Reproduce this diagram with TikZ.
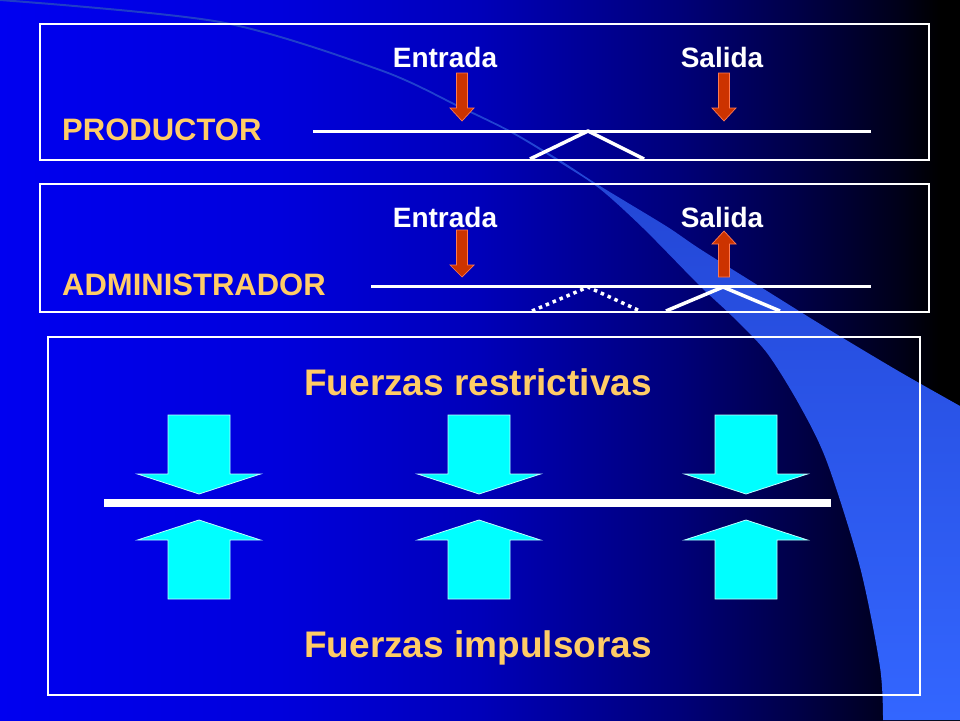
\documentclass[tikz,border=0pt]{standalone}
\usepackage{fontspec}
\setmainfont{Liberation Sans}
\definecolor{bgA}{RGB}{0,0,240}
\definecolor{bgB}{RGB}{0,0,220}
\definecolor{bgC}{RGB}{0,0,185}
\definecolor{bgD}{RGB}{0,0,120}
\definecolor{bgE}{RGB}{0,0,70}
\definecolor{bgF}{RGB}{0,0,25}
\definecolor{bgG}{RGB}{0,0,0}
\definecolor{bandtop}{RGB}{30,60,200}
\definecolor{bandcol}{RGB}{51,102,255}
\definecolor{roletext}{RGB}{255,204,102}
\definecolor{arrowred}{RGB}{204,51,0}
\definecolor{arrowedge}{RGB}{255,120,80}
\definecolor{forcecyan}{RGB}{0,255,255}
\definecolor{cyanedge}{RGB}{190,255,255}
\pgfdeclarehorizontalshading{bgshade}{100bp}{color(0bp)=(bgA); color(25bp)=(bgA); color(39.58bp)=(bgB); color(50bp)=(bgC); color(60.42bp)=(bgD); color(66.67bp)=(bgE); color(71.875bp)=(bgF); color(73.96bp)=(bgG); color(75bp)=(bgG); color(100bp)=(bgG)}
\tikzset{
  framebox/.style={draw=white, line width=2.5pt},
  beam/.style={draw=white, line width=3pt},
  bigbeam/.style={draw=white, line width=8pt},
  fulcrum/.style={draw=white, line width=3.5pt, line join=round},
  dottedfulcrum/.style={draw=white, line width=3.5pt, dash pattern=on 3.5pt off 4pt},
  redarrow/.style={fill=arrowred, draw=arrowedge, line width=0.7pt},
  cyanarrow/.style={fill=forcecyan, draw=cyanedge, line width=0.8pt},
  lbl/.style={text=white, font=\bfseries\fontsize{28}{30}\selectfont, anchor=base, inner sep=0pt},
  role/.style={text=roletext, font=\bfseries\fontsize{31}{33}\selectfont, anchor=base west, inner sep=0pt},
  force/.style={text=roletext, font=\bfseries\fontsize{37}{40}\selectfont, anchor=base, inner sep=0pt}
}
\begin{document}
\begin{tikzpicture}[x=1pt,y=-1pt]
\useasboundingbox (0,0) rectangle (960,720);
% background
\shade[shading=bgshade] (0,0) rectangle (960,720);
% swoosh band
\shade[top color=bandtop, middle color=bandcol, bottom color=bandcol]
  plot[smooth] coordinates {(0,-1) (220,21) (380,69) (460,106) (513,132) (563,162) (600,186) (666,226) (700,249) (767,291) (833,332) (900,372) (960,406)}
  -- (960,720) -- (883,720)
  -- plot[smooth] coordinates {(883,720) (880,667) (860,567) (827,462) (800,406) (767,353) (733,317) (700,286) (643,228) (600,189) (563,164.5) (513,134) (460,108) (380,71) (220,23) (0,1)}
  -- cycle;

% ---------- Box 1: PRODUCTOR ----------
\draw[beam] (313,131) -- (871,131);
\draw[fulcrum] (530,159) -- (588,131) -- (644,159);
\draw[framebox] (40,24) rectangle (929,160);
\node[lbl] (ent1) at (445,67) {Entrada};
\node[lbl] (sal1) at (722,67) {Salida};
\node[role] (prod) at (62,140) {PRODUCTOR};
\foreach \cx in {462,724}{
  \draw[redarrow] (\cx-5.5,73) -- (\cx+5.5,73) -- (\cx+5.5,108) -- (\cx+12,108) -- (\cx,121) -- (\cx-12,108) -- (\cx-5.5,108) -- cycle;
}

% ---------- Box 2: ADMINISTRADOR ----------
\draw[beam] (371,286) -- (871,286);
\draw[dottedfulcrum] (532,311) -- (588,287) -- (640,311);
\draw[fulcrum] (666,311) -- (723,287) -- (780,311);
\draw[framebox] (40,184) rectangle (929,312);
\node[lbl] (ent2) at (445,227) {Entrada};
\node[lbl] (sal2) at (722,227) {Salida};
\node[role] (adm) at (62,295) {ADMINISTRADOR};
\draw[redarrow] (456.5,230) -- (467.5,230) -- (467.5,265) -- (474,265) -- (462,277) -- (450,265) -- (456.5,265) -- cycle;
\draw[redarrow] (718.5,277) -- (729.5,277) -- (729.5,244) -- (736,244) -- (724,231) -- (712,244) -- (718.5,244) -- cycle;

% ---------- Box 3: forces ----------
\draw[framebox] (48,337) rectangle (920,695);
\node[force] (rest) at (478,395) {Fuerzas restrictivas};
\node[force] (imp) at (478,657) {Fuerzas impulsoras};
\draw[bigbeam] (104,503) -- (831,503);
\foreach \cx in {199,479,746}{
  \draw[cyanarrow] (\cx-31,415) -- (\cx+31,415) -- (\cx+31,474) -- (\cx+61.5,474) -- (\cx,494) -- (\cx-61.5,474) -- (\cx-31,474) -- cycle;
  \draw[cyanarrow] (\cx-31,599) -- (\cx+31,599) -- (\cx+31,540) -- (\cx+61.5,540) -- (\cx,520) -- (\cx-61.5,540) -- (\cx-31,540) -- cycle;
}
\end{tikzpicture}
\end{document}
